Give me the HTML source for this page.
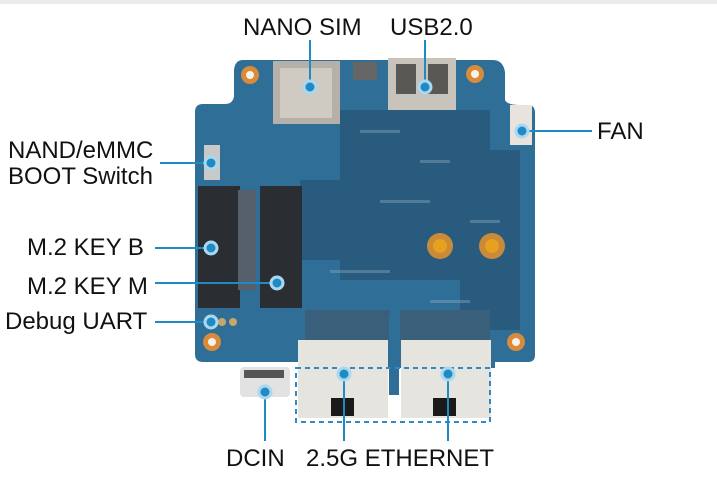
<!DOCTYPE html>
<html><head><meta charset="utf-8"><style>
html,body{margin:0;padding:0;background:#fff;width:717px;height:500px;overflow:hidden}
svg{display:block}
text{font-family:"Liberation Sans",Arial,sans-serif;font-size:24px;fill:#111}
</style></head><body>
<svg width="717" height="500" viewBox="0 0 717 500" xmlns="http://www.w3.org/2000/svg">
<rect x="0" y="0" width="717" height="4" fill="#ececec"/>
<!-- board -->
<path d="M243 60 H493 Q503 60 505 72 V100 Q507 105 520 105 H528 Q535 105 535 113 V355 Q535 362 528 362 H495 V368 H298 V362 H203 Q195 362 195 354 V112 Q195 104 203 104 H225 Q233 104 234 96 V70 Q235 60 243 60 Z" fill="#2f6e96"/>
<g fill="#254f6e" opacity="0.6">
<rect x="340" y="110" width="150" height="170"/>
<rect x="300" y="180" width="60" height="80"/>
<rect x="460" y="150" width="60" height="180"/>
</g>
<g fill="#9fb7c6" opacity="0.35">
<rect x="360" y="130" width="40" height="3"/><rect x="420" y="160" width="30" height="3"/>
<rect x="380" y="200" width="50" height="3"/><rect x="470" y="220" width="30" height="3"/>
<rect x="330" y="270" width="60" height="3"/><rect x="430" y="300" width="40" height="3"/>
</g>
<g><circle cx="250" cy="75" r="9" fill="#d98a3a"/><circle cx="250" cy="75" r="4" fill="#f6f2ea"/>
<circle cx="475" cy="74" r="9" fill="#d98a3a"/><circle cx="475" cy="74" r="4" fill="#f6f2ea"/>
<circle cx="212" cy="342" r="9" fill="#d98a3a"/><circle cx="212" cy="342" r="4" fill="#f6f2ea"/>
<circle cx="516" cy="342" r="9" fill="#d98a3a"/><circle cx="516" cy="342" r="4" fill="#f6f2ea"/>
<circle cx="440" cy="246" r="13" fill="#c98a3a"/><circle cx="440" cy="246" r="7" fill="#e8a020"/>
<circle cx="492" cy="246" r="13" fill="#c98a3a"/><circle cx="492" cy="246" r="7" fill="#e8a020"/></g>
<rect x="273" y="61" width="67" height="63" fill="#b5b1a8"/><rect x="280" y="68" width="52" height="50" fill="#cfcbc2"/>
<rect x="353" y="62" width="24" height="18" fill="#666"/>
<rect x="388" y="58" width="68" height="52" fill="#c8c4bc"/><rect x="396" y="64" width="20" height="30" fill="#5a5854"/><rect x="428" y="64" width="20" height="30" fill="#5a5854"/>
<rect x="510" y="105" width="22" height="40" fill="#e8e3dc"/>
<rect x="204" y="145" width="16" height="35" fill="#c9c9c9"/>
<rect x="198" y="186" width="42" height="122" fill="#2a2d31"/>
<rect x="260" y="186" width="42" height="122" fill="#2a2d31"/>
<rect x="238" y="190" width="18" height="100" fill="#55606a"/>
<circle cx="222" cy="322" r="4" fill="#c9a56a"/><circle cx="233" cy="322" r="4" fill="#c9a56a"/>
<rect x="305" y="310" width="85" height="30" fill="#3a5f7a"/><rect x="400" y="310" width="90" height="30" fill="#3a5f7a"/>
<rect x="240" y="367" width="50" height="30" rx="4" fill="#e2e2e2"/><rect x="244" y="370" width="40" height="8" fill="#555"/>
<rect x="298" y="340" width="90" height="78" fill="#e6e4df"/>
<rect x="401" y="340" width="90" height="78" fill="#e6e4df"/>
<rect x="331" y="398" width="23" height="18" fill="#1a1a1a"/>
<rect x="433" y="398" width="23" height="18" fill="#1a1a1a"/>
<rect x="389" y="315" width="10" height="80" fill="#2f6e96"/>
<rect x="296" y="368" width="194" height="54" fill="none" stroke="#2f8ac4" stroke-width="2" stroke-dasharray="5,4"/>
<g stroke="#1f8ac4" stroke-width="2" fill="none">
<line x1="310" y1="40" x2="310" y2="87"/>
<line x1="425" y1="40" x2="425" y2="87"/>
<line x1="522" y1="131" x2="592" y2="131"/>
<line x1="160" y1="163" x2="211" y2="163"/>
<line x1="155" y1="248" x2="211" y2="248"/>
<line x1="155" y1="283" x2="277" y2="283"/>
<line x1="155" y1="322" x2="211" y2="322"/>
<line x1="265" y1="392" x2="265" y2="441"/>
<line x1="344" y1="374" x2="344" y2="441"/>
<line x1="448" y1="374" x2="448" y2="441"/>
</g>
<g fill="#1f8ac4" stroke="#a9d8f0" stroke-width="3">
<circle cx="310" cy="87" r="6"/><circle cx="425" cy="87" r="6"/><circle cx="522" cy="131" r="6"/>
<circle cx="211" cy="163" r="6"/><circle cx="211" cy="248" r="6"/><circle cx="277" cy="283" r="6"/>
<circle cx="211" cy="322" r="6"/><circle cx="265" cy="392" r="6"/><circle cx="344" cy="374" r="6"/><circle cx="448" cy="374" r="6"/>
</g>
<text x="243" y="35">NANO SIM</text>
<text x="390" y="35">USB2.0</text>
<text x="597" y="139">FAN</text>
<text x="8" y="158">NAND/eMMC</text>
<text x="8" y="184">BOOT Switch</text>
<text x="27" y="255">M.2 KEY B</text>
<text x="27" y="294">M.2 KEY M</text>
<text x="5" y="329">Debug UART</text>
<text x="226" y="466">DCIN</text>
<text x="306" y="466">2.5G ETHERNET</text>
</svg>
</body></html>
